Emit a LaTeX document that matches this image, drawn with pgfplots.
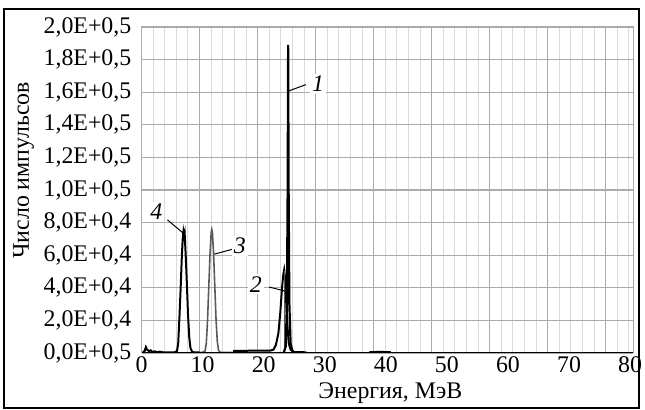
\documentclass[border=0pt]{standalone}
\usepackage{pgfplots}
\pgfplotsset{compat=1.18}
\usepackage{fontspec}
\setmainfont{Liberation Serif}
\definecolor{gmaj}{HTML}{ABABAB}
\definecolor{gmin}{HTML}{DADADA}
\definecolor{curvegray}{HTML}{5A5A5A}
\pgfplotsset{
  common/.style={
    scale only axis,
    width=246.5bp, height=163.5bp,
    xmin=0, xmax=80.5, ymin=0, ymax=10,
    major tick length=0pt, minor tick length=0pt,
    tick label style={font=\fontsize{12}{14}\selectfont},
  }
}
\begin{document}
\fontsize{12}{14}\selectfont
\begin{tikzpicture}
\begin{axis}[
  common,
  xtick={0,9.5,19,28.5,38,47.5,57,66.5,76},
  xticklabels={},
  minor xtick={1.9,3.8,5.7,7.6,11.4,13.3,15.2,17.1,20.9,22.8,24.7,26.6,30.4,32.3,34.2,36.1,39.9,41.8,43.7,45.6,49.4,51.3,53.2,55.1,58.9,60.8,62.7,64.6,68.4,70.3,72.2,74.1,77.9,79.8},
  ytick={0,1,...,10},
  yticklabels={{0,0E+0,5},{2,0E+0,4},{4,0E+0,4},{6,0E+0,4},{8,0E+0,4},{1,0E+0,5},{1,2E+0,5},{1,4E+0,5},{1,6E+0,5},{1,8E+0,5},{2,0E+0,5}},
  xmajorgrids, xminorgrids, ymajorgrids,
  major grid style={gmaj, line width=0.6pt},
  minor grid style={gmin, line width=0.5pt},
  axis line style={gmaj, line width=0.5pt},
  yticklabel style={xshift=-1pt},
  ylabel={Число импульсов},
  ylabel style={at={(axis description cs:-0.24,0.56)}, anchor=center, font=\fontsize{12}{14}\selectfont},
]
% curve 4 (black)
\addplot[black, line width=1bp] coordinates {
 (0.2,0.03) (0.5,0.06) (0.7,0.18) (0.9,0.10) (1.2,0.06) (1.5,0.08) (1.8,0.03) (2.2,0.05) (2.6,0.02) (3.0,0.04) (3.5,0.02) (4.5,0.02)
 (5.4,0.02) (5.8,0.06) (6.0,0.3) (6.2,1.1) (6.4,2.0) (6.6,3.0) (6.75,3.55) (6.85,3.72) (6.95,3.6) (7.05,3.68)
 (7.2,3.1) (7.4,2.2) (7.6,1.2) (7.8,0.5) (8.0,0.15) (8.3,0.03) (8.6,0.02) (9.5,0.02)};
% curve 3 (gray)
\addplot[curvegray, line width=0.8bp] coordinates {
 (9.5,0.02) (10.0,0.02) (10.4,0.06) (10.6,0.3) (10.8,1.0) (11.0,2.0) (11.2,3.0) (11.4,3.7) (11.5,3.79) (11.6,3.7)
 (11.8,3.0) (12.0,2.0) (12.2,1.0) (12.4,0.35) (12.6,0.08) (12.9,0.02) (15.0,0.02)};
% curve 2 (black)
\addplot[black, line width=1bp] coordinates {
 (15.0,0.06) (18.0,0.07) (21.0,0.07) (21.6,0.1) (22.0,0.25) (22.4,0.6) (22.7,1.2) (23.0,2.0) (23.2,2.4) (23.35,2.55)
 (23.5,2.3) (23.7,1.5) (23.9,0.8) (24.1,0.3) (24.4,0.1) (25.0,0.03) (27.0,0.02)};
% thin gray line at curve 2
\addplot[curvegray, line width=0.6bp] coordinates {(23.45,0.0) (23.45,2.5)};
% curve 1 (black, narrow)
\addplot[black, line width=1.1bp] coordinates {
 (23.3,0.02) (23.6,0.2) (23.8,1.5) (23.92,5.0) (24.0,9.45) (24.08,5.0) (24.2,1.5) (24.4,0.3) (24.7,0.05) (25.1,0.02)};
% small trace near 40
\addplot[black, line width=0.8bp] coordinates {(37.3,0.03) (39.0,0.04) (40.8,0.03)};
% bottom axis line
\draw[black, line width=0.9bp] (axis cs:0,0) -- (axis cs:80.5,0);
% labels
\draw[black, line width=0.5bp] (axis cs:24.15,8.04) -- (axis cs:26.9,8.23);
\node[fill=white, inner sep=1pt, font=\itshape\fontsize{12}{14}\selectfont] at (axis cs:28.9,8.26) {1};
\draw[black, line width=0.5bp] (axis cs:20.9,2.02) -- (axis cs:23.5,1.90);
\node[fill=white, inner sep=1pt, font=\itshape\fontsize{12}{14}\selectfont] at (axis cs:18.7,2.11) {2};
\draw[black, line width=0.5bp] (axis cs:14.86,3.18) -- (axis cs:11.9,3.03);
\node[fill=white, inner sep=1pt, font=\itshape\fontsize{12}{14}\selectfont] at (axis cs:16.1,3.28) {3};
\draw[black, line width=0.5bp] (axis cs:4.24,4.08) -- (axis cs:6.86,3.67);
\node[fill=white, inner sep=1pt, font=\itshape\fontsize{12}{14}\selectfont] at (axis cs:2.4,4.32) {4};
\end{axis}
\begin{axis}[
  common,
  axis line style={draw=none},
  xtick={0,10,...,80},
  xticklabels={0,10,20,30,40,50,60,70,80},
  ytick=\empty,
  xticklabel style={yshift=0pt, inner sep=1.5pt},
  xlabel={Энергия, МэВ},
  xlabel style={at={(axis description cs:0.506,-0.122)}, anchor=center, inner sep=0pt, font=\fontsize{12}{14}\selectfont},
]
\end{axis}
\useasboundingbox ([shift={(-71bp,-28.5bp)}]current axis.south west) rectangle ([shift={(251.5bp,177bp)}]current axis.south west);
\draw[black, line width=1.2bp] ([shift={(-69bp,-27.5bp)}]current axis.south west) rectangle ([shift={(249.5bp,172.5bp)}]current axis.south west);
\end{tikzpicture}
\end{document}
